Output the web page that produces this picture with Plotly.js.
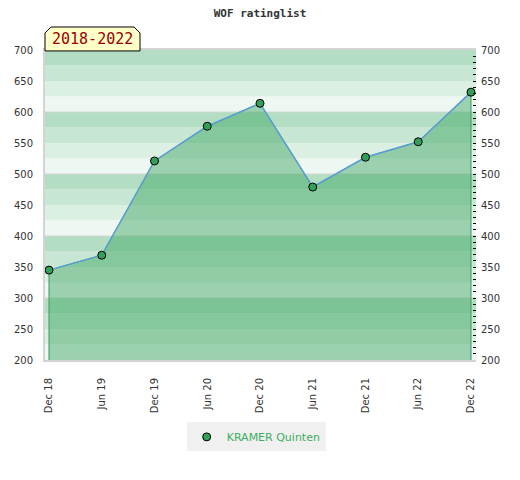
<!DOCTYPE html>
<html><head><meta charset="utf-8">
<script src="https://cdn.plot.ly/plotly-3.0.1.min.js"></script>
<style>html,body{margin:0;padding:0;background:#fff}</style>
</head><body><div id="chart" style="width:520px;height:480px"></div>
<script>
const categories = ["Dec 18","Jun 19","Dec 19","Jun 20","Dec 20","Jun 21","Dec 21","Jun 22","Dec 22"];
const ratings = [345, 369, 521, 577, 614, 479, 527, 552, 632];
const seriesName = "KRAMER Quinten";
const yTickVals = [200, 250, 300, 350, 400, 450, 500, 550, 600, 650, 700];
const periodLabel = "2018-2022";
const chartTitle = "WOF ratinglist";

const yMin = 200, yMax = 700;
const bandColors = ["#eef7f1", "#dbefe2", "#c7e6d3", "#b3dec3"]; // bottom->top within each 100 block
const shapes = [];
for (let v = yMin; v < yMax; v += 25) {
  const idx = ((v - yMin) / 25) % 4;
  shapes.push({type:"rect", xref:"paper", yref:"y", x0:0, x1:1, y0:v, y1:v+25,
    fillcolor: bandColors[idx], line:{width:0}, layer:"below"});
}
for (let v = yMin + 100; v < yMax; v += 100) {
  shapes.push({type:"line", xref:"paper", yref:"y", x0:0, x1:1, y0:v, y1:v,
    line:{color:"#d4d4d4", width:1}, layer:"below"});
}
// label box with chamfered top corners
shapes.push({type:"path", xref:"paper", yref:"paper",
  path:"M 0 0.997 L 0 1.055 L 0.0139 1.0742 L 0.2065 1.0742 L 0.2204 1.055 L 0.2204 0.997 Z",
  fillcolor:"#ffffc8", line:{color:"#000", width:1}, layer:"above"});

const fillX = [categories[0]].concat(categories, [categories[categories.length-1]]);
const fillY = [yMin].concat(ratings, [yMin]);

const data = [
  {x: fillX, y: fillY, type:"scatter", mode:"lines", fill:"toself",
   fillcolor:"rgba(62,165,98,0.47)", line:{color:"#3a9a5a", width:1},
   hoverinfo:"skip", showlegend:false},
  {x: categories, y: ratings, type:"scatter", mode:"lines",
   line:{color:"#5a9fd4", width:1.5}, hoverinfo:"skip", showlegend:false},
  {x: categories, y: ratings, type:"scatter", mode:"markers", name: seriesName,
   marker:{color:"#33a05a", size:8, line:{color:"#000", width:1}}, showlegend:true},
  {x: categories, y: ratings, type:"scatter", mode:"markers", yaxis:"y2",
   marker:{opacity:0}, hoverinfo:"skip", showlegend:false}
];

const layout = {
  width:520, height:480,
  margin:{l:45, r:44, t:50, b:120, pad:0},
  paper_bgcolor:"#fff", plot_bgcolor:"#fff",
  title:{text: chartTitle, x:0.5, xanchor:"center", y:0.973, yanchor:"middle", yref:"container",
    font:{family:"DejaVu Sans Mono", size:11, color:"#333", weight:"bold"}},
  xaxis:{type:"category", range:[-0.076, 8.095], showgrid:false, zeroline:false,
    tickangle:-90, ticks:"", ticklabelstandoff:12,
    tickfont:{family:"DejaVu Sans", size:10, color:"#333"},
    showline:true, linecolor:"#d4d4d4", linewidth:2, mirror:true},
  yaxis:{range:[yMin, yMax], tickvals:yTickVals, showgrid:false, zeroline:false,
    ticks:"", ticklabelstandoff:8,
    tickfont:{family:"DejaVu Sans", size:10, color:"#333"},
    showline:true, linecolor:"#d4d4d4", linewidth:2},
  yaxis2:{range:[yMin, yMax], tickvals:yTickVals, overlaying:"y", side:"right", anchor:"x",
    showgrid:false, zeroline:false, ticks:"inside", ticklen:3, tickcolor:"#000", tickwidth:1,
    minor:{dtick:10, ticks:"inside", ticklen:3, tickcolor:"#000", tickwidth:1, showgrid:false},
    ticklabelstandoff:4,
    tickfont:{family:"DejaVu Sans", size:10, color:"#333"}, showline:false},
  shapes: shapes,
  annotations:[{text: periodLabel, xref:"paper", yref:"paper", x:0.110, y:1.036,
    xanchor:"center", yanchor:"middle", showarrow:false,
    font:{family:"DejaVu Sans Mono", size:15, color:"#990000"}}],
  legend:{orientation:"h", x:0.49, xanchor:"center", y:-0.248, yanchor:"middle",
    bgcolor:"#f0f0f0", font:{family:"DejaVu Sans", size:11, color:"#3cae5f"}},
  hovermode:false
};

Plotly.newPlot("chart", data, layout, {displayModeBar:false, staticPlot:true});
</script></body></html>
